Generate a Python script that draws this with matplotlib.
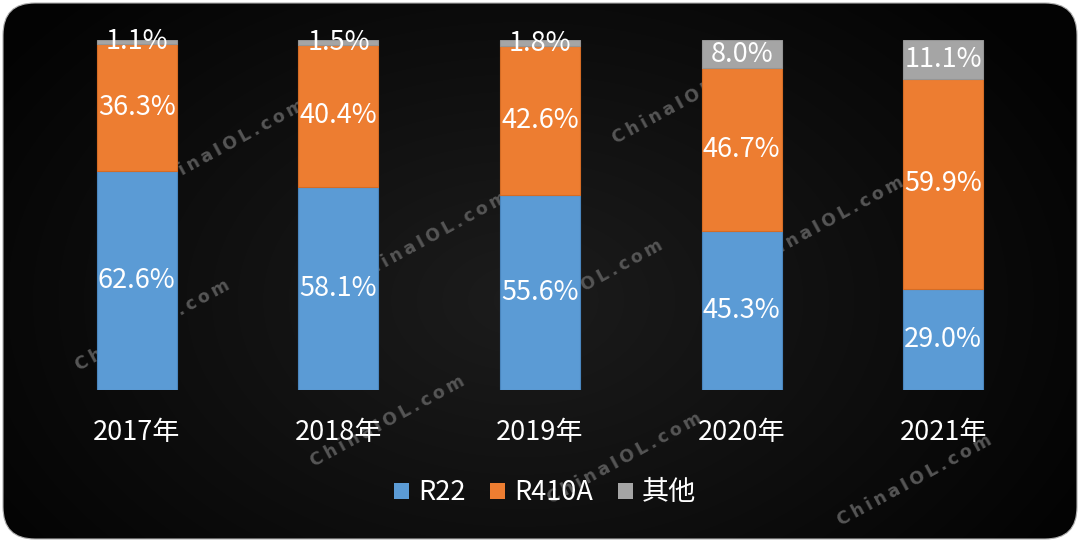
import numpy as np
import matplotlib
matplotlib.use("Agg")
import matplotlib.pyplot as plt
from matplotlib.patches import FancyBboxPatch
from matplotlib.patches import Patch

plt.rcParams['font.family'] = ['Noto Sans CJK SC', 'DejaVu Sans']

# ---- data ----
years = ["2017年", "2018年", "2019年", "2020年", "2021年"]
r22 = [62.6, 58.1, 55.6, 45.3, 29.0]
r410a = [36.3, 40.4, 42.6, 46.7, 59.9]
others = [1.1, 1.5, 1.8, 8.0, 11.1]
series_names = ["R22", "R410A", "其他"]
colors = ["#5B9BD5", "#ED7D31", "#A5A5A5"]
edge_colors = ["#4A86BE", "#D56C25", "#959595"]

W, H = 1080, 541
fig = plt.figure(figsize=(W / 100, H / 100), dpi=100, facecolor="white")

# ---- background with rounded corners and radial gradient ----
ax_bg = fig.add_axes([0, 0, 1, 1], zorder=-1)
ax_bg.set_xlim(0, W)
ax_bg.set_ylim(H, 0)
ax_bg.axis("off")
yy, xx = np.mgrid[0:H, 0:W]
d = np.sqrt(((xx - 520) / 620.0) ** 2 + ((yy - 300) / 420.0) ** 2)
g = np.clip(1 - d, 0, 1)
val = 0.015 + 0.095 * g
img = np.dstack([val, val, val])
box = FancyBboxPatch((3, 3), W - 6, H - 5, boxstyle="round,pad=0,rounding_size=32",
                     facecolor="none", edgecolor="#b0b0b0", linewidth=0.8,
                     transform=ax_bg.transData, zorder=3)
im = ax_bg.imshow(img, extent=(0, W, H, 0), zorder=1, interpolation="bilinear")
ax_bg.add_patch(box)
im.set_clip_path(box)

# watermarks (behind bars)
wm_centers = [(153, 325), (228, 145), (431, 237), (586, 285), (690, 98),
              (827, 222), (388, 421), (625, 458), (915, 480)]
wm_text = "\u2009".join("ChinaIOL.com")
for (cx, cy) in wm_centers:
    t = ax_bg.text(cx, cy, wm_text, rotation=28.5, rotation_mode="anchor",
                   ha="center", va="center", fontsize=12.5, fontweight="bold",
                   color="#565656", family="DejaVu Sans", zorder=2)
    t.set_clip_path(box)

# ---- main chart ----
left_px, right_px = 36, 1044
top_px, bot_px = 40, 390
ax = fig.add_axes([left_px / W, 1 - bot_px / H, (right_px - left_px) / W,
                   (bot_px - top_px) / H], zorder=1)
ax.patch.set_alpha(0)
x = np.arange(len(years))
bw = 0.397
bottom = np.zeros(len(years))
handles = []
for vals, name, c, ec in zip([r22, r410a, others], series_names, colors, edge_colors):
    vals = np.array(vals)
    ax.bar(x, vals, bw, bottom=bottom, color=c, edgecolor=ec, linewidth=0.8, label=name)
    for xi, b, v in zip(x, bottom, vals):
        ax.text(xi, b + v / 2, f"{v:.1f}%", ha="center", va="center",
                color="white", fontsize=19.5, fontweight=300)
    bottom += vals
    handles.append(Patch(facecolor=c, edgecolor="none", label=name))

ax.set_xlim(-0.5, len(years) - 0.5)
ax.set_ylim(0, 100)
ax.set_yticks([])
ax.set_xticks(x)
ax.set_xticklabels(years, color="white", fontsize=19.5, fontweight=300)
ax.tick_params(axis="x", length=0, pad=21)
for s in ax.spines.values():
    s.set_visible(False)

leg = fig.legend(handles=handles, loc="center", bbox_to_anchor=(545 / W, 1 - 493 / H),
                 ncol=3, frameon=False, prop={"size": 19.5, "weight": 300},
                 handlelength=0.55, handleheight=0.55,
                 handletextpad=0.35, columnspacing=0.9)
for t in leg.get_texts():
    t.set_color("white")

fig.savefig("out.png", dpi=100, facecolor="white")
